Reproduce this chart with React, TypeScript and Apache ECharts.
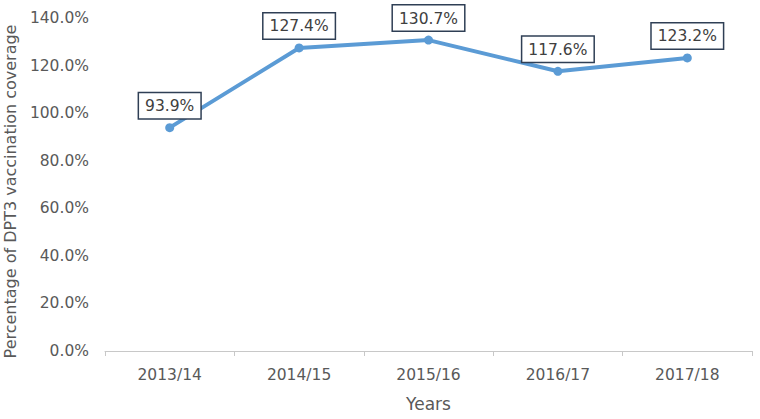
import React, { useEffect, useRef } from "react";
import * as echarts from "echarts";

const categories = ["2013/14", "2014/15", "2015/16", "2016/17", "2017/18"];
const coverage = [93.9, 127.4, 130.7, 117.6, 123.2];
const yTicks = { min: 0, max: 140, interval: 20 };

const FONT = "'DejaVu Sans', 'Noto Sans', sans-serif";

export default function App() {
  const ref = useRef<HTMLDivElement>(null);
  useEffect(() => {
    if (!ref.current) return;
    const chart = echarts.init(ref.current, null, { renderer: "svg" });
    chart.setOption({
      animation: false,
      backgroundColor: "#ffffff",
      grid: {
        left: 105,
        right: 8,
        top: 18,
        bottom: 68,
        containLabel: false,
        outerBoundsMode: "none",
      },
      xAxis: {
        type: "category",
        data: categories,
        boundaryGap: true,
        name: "Years",
        nameLocation: "middle",
        nameGap: 44,
        nameTextStyle: { fontFamily: FONT, fontSize: 17, color: "#595959" },
        axisLine: { lineStyle: { color: "#c8c8c8", width: 1 } },
        axisTick: { show: true, length: 5, lineStyle: { color: "#c8c8c8" } },
        axisLabel: { fontFamily: FONT, fontSize: 15.5, color: "#595959", margin: 16 },
      },
      yAxis: {
        type: "value",
        min: yTicks.min,
        max: yTicks.max,
        interval: yTicks.interval,
        name: "Percentage of DPT3 vaccination coverage",
        nameLocation: "middle",
        nameGap: 79,
        nameTextStyle: {
          fontFamily: FONT,
          fontSize: 16,
          color: "#595959",
          padding: [0, 14, 0, 0],
        },
        axisLine: { show: false },
        axisTick: { show: false },
        splitLine: { show: false },
        axisLabel: {
          fontFamily: FONT,
          fontSize: 15.5,
          color: "#595959",
          margin: 16,
          formatter: (v: number) => v.toFixed(1) + "%",
        },
      },
      series: [
        {
          type: "line",
          data: coverage,
          symbol: "circle",
          symbolSize: 9,
          lineStyle: { color: "#5b9bd5", width: 4 },
          itemStyle: { color: "#5b9bd5" },
          label: {
            show: true,
            position: "top",
            distance: 5,
            formatter: (p: any) => p.value.toFixed(1) + "%",
            fontFamily: FONT,
            fontSize: 15.5,
            color: "#404040",
            backgroundColor: "#ffffff",
            borderColor: "#2f3f55",
            borderWidth: 1.5,
            padding: [5, 6, 4, 6],
          },
        },
      ],
    });
    return () => chart.dispose();
  }, []);
  return (
    <div
      ref={ref}
      style={{ position: "absolute", left: 0, top: 0, width: 760, height: 419 }}
    />
  );
}
